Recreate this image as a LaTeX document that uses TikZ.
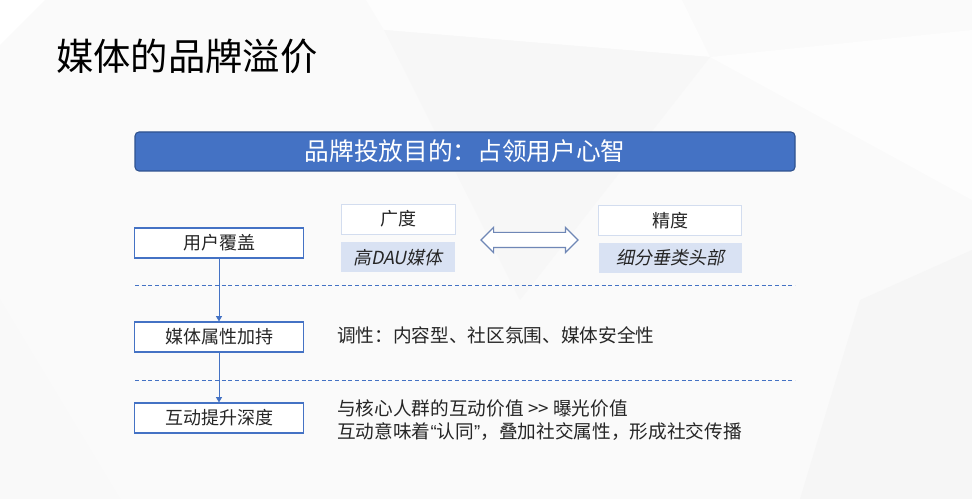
\documentclass[tikz,border=0pt]{standalone}
\usepackage{fontspec}
\setmainfont{Noto Sans CJK SC}
\newfontfamily\slantcjk[FakeSlant=0.2]{Noto Sans CJK SC}
\newfontfamily\latinq{Liberation Sans}
\usepackage{xcolor}
\definecolor{bannerblue}{HTML}{4472C4}
\definecolor{bannerline}{HTML}{2F528F}
\definecolor{paleblue}{HTML}{D9E2F3}
\definecolor{paleline}{HTML}{D3DDEF}
\definecolor{arrowgray}{HTML}{6F87B6}
\definecolor{inktext}{HTML}{262626}
\tikzset{
  flowbox/.style = {draw=bannerblue, fill=white, line width=0.8pt,
                    minimum width=126.75pt, minimum height=22.5pt,
                    inner sep=0pt, font=\fontsize{13.5}{16}\selectfont, text=inktext},
  tagbox/.style  = {draw=paleline, fill=white, line width=0.6pt,
                    minimum width=#1, minimum height=22.5pt,
                    inner sep=0pt, font=\fontsize{13.5}{16}\selectfont, text=inktext},
  valbox/.style  = {fill=paleblue, minimum width=#1, minimum height=22.5pt,
                    inner sep=0pt, font=\fontsize{13.5}{16}\slantcjk, text=inktext},
  note/.style    = {anchor=west, inner sep=0pt, align=left, text=inktext,
                    font=\fontsize{14}{17.25}\selectfont},
  divider/.style = {bannerblue, line width=0.6pt, dash pattern=on 3pt off 2pt},
  flow/.style    = {bannerblue, line width=0.7pt, -{Triangle[length=4pt,width=4.5pt]}}
}
\usetikzlibrary{arrows.meta,positioning,shapes.arrows}

\begin{document}
\begin{tikzpicture}[x=0.75pt,y=-0.75pt]
  % background
  \fill[gray!4] (0,0) rectangle (972,499);
  \useasboundingbox (0,0) rectangle (972,499);
  \fill[white] (0,0) -- (45,0) -- (0,45) -- cycle;
  \fill[white!70!gray!4] (366,0) -- (682,0) -- (710,57) -- (384,30) -- cycle;
  \fill[gray!6] (384,30) -- (710,57) -- (520,300) -- cycle;
  \fill[white!60!gray!4] (710,57) -- (972,30) -- (972,200) -- cycle;
  \fill[gray!7] (860,300) -- (972,250) -- (972,499) -- (800,499) -- cycle;
  \fill[gray!5] (0,300) -- (120,499) -- (0,499) -- cycle;

  % title
  \node[anchor=west, inner sep=0pt, font=\fontsize{28}{32}\selectfont] (title)
    at (56,56) {媒体的品牌溢价};

  % banner
  \node[draw=bannerline, fill=bannerblue, rounded corners=3pt, line width=0.8pt,
        minimum width=495pt, minimum height=29.25pt, inner sep=0pt,
        text=white, font=\fontsize{18.5}{20}\selectfont] (goal)
    at (465,151.5) {品牌投放目的：占领用户心智};

  % flow
  \node[flowbox] (cover) at (219,243) {用户覆盖};
  \node[flowbox] (attr)  at (219,337) {媒体属性加持};
  \node[flowbox] (depth) at (219,418) {互动提升深度};
  \draw[flow] (cover) -- (attr);
  \draw[flow] (attr) -- (depth);

  % breadth vs precision
  \node[tagbox=85.5pt]   (breadth)   at (398,219)   {广度};
  \node[valbox=85.5pt]   (bigdau)    at (398,257.5) {高DAU媒体};
  \node[tagbox=107.25pt] (precision) at (670,220.5) {精度};
  \node[valbox=107.25pt] (vertical)  at (670,258)   {细分垂类头部};
  \node[double arrow, draw=arrowgray, fill=white, line width=0.9pt,
        minimum height=72.75pt, inner xsep=0pt, inner ysep=5.25pt,
        double arrow head extend=3.75pt] (versus) at (529.5,240) {};

  % dividers
  \coordinate (d1a) at (135,285);  \coordinate (d1b) at (795,285);
  \coordinate (d2a) at (135,380);  \coordinate (d2b) at (795,380);
  \draw[divider] (d1a) -- (d1b);
  \draw[divider] (d2a) -- (d2b);

  % notes
  \node[note] (tone) at (337,335) {调性：内容型、社区氛围、媒体安全性};
  \node[note] (value) at (337,420.5) {与核心人群的互动价值 >{}> 曝光价值\\互动意味着{\latinq “}认同{\latinq ”}，叠加社交属性，形成社交传播};
\end{tikzpicture}
\end{document}
